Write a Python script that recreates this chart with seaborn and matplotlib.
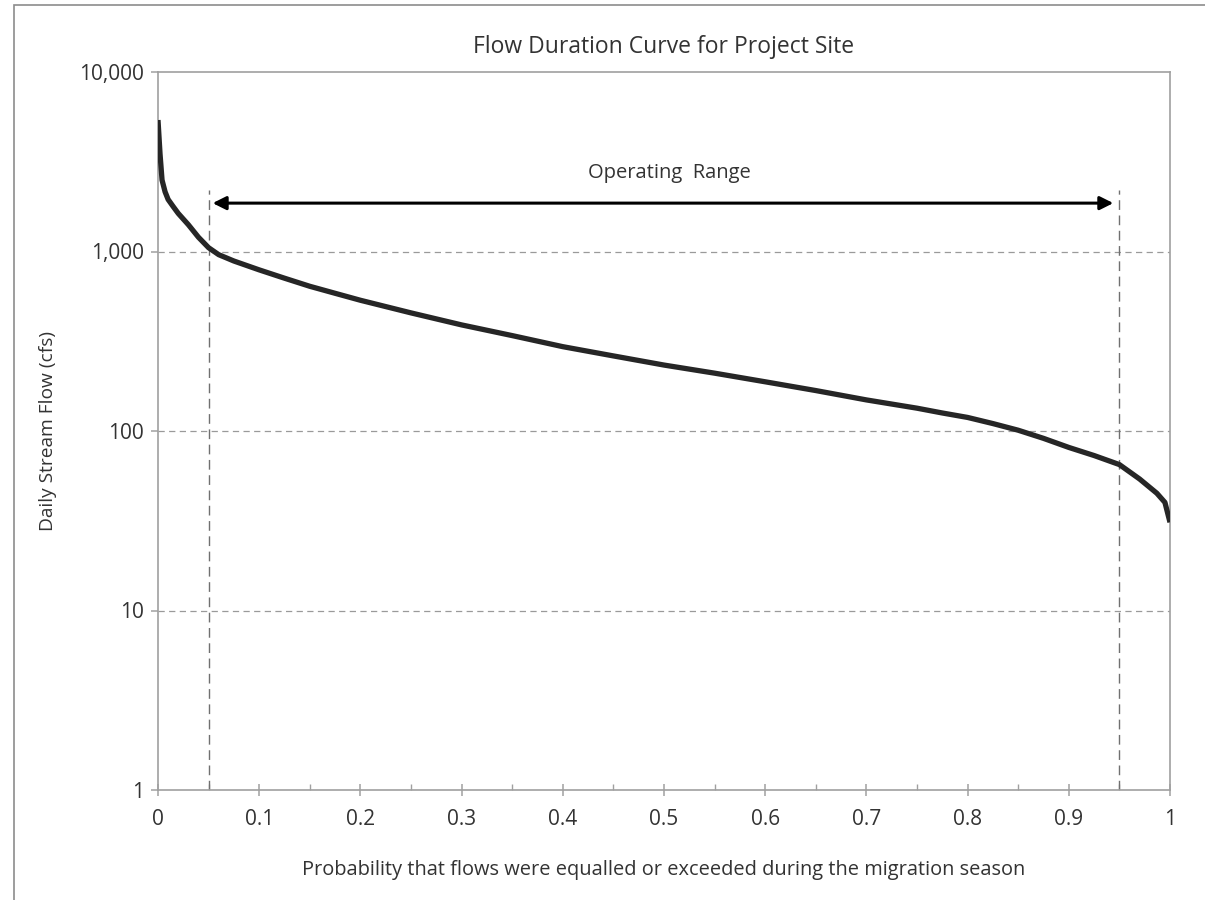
import numpy as np
import pandas as pd
import seaborn as sns
import matplotlib.pyplot as plt
from matplotlib.ticker import FixedLocator, FuncFormatter, NullLocator
from matplotlib.patches import Rectangle

# exceedance probability vs daily flow (cfs)
prob = [0.0, 0.002, 0.004, 0.007, 0.01, 0.015, 0.02, 0.03, 0.04, 0.05, 0.06,
        0.075, 0.1, 0.125, 0.15, 0.175, 0.2, 0.25, 0.3, 0.35, 0.4, 0.45, 0.5,
        0.55, 0.6, 0.65, 0.7, 0.75, 0.775, 0.8, 0.825, 0.85, 0.875, 0.9, 0.925,
        0.95, 0.97, 0.987, 0.995, 1.0]
flow = [5400, 3500, 2500, 2150, 1950, 1780, 1630, 1410, 1200, 1050, 960,
        885, 790, 710, 640, 585, 535, 455, 390, 340, 295, 262, 233,
        210, 188, 168, 149, 134, 126, 119, 110, 101, 91, 81, 73,
        65, 54, 45, 40, 31]
range_bounds = [0.05, 0.95]
y_ticks = [1, 10, 100, 1000, 10000]
x_ticks = [0, 0.1, 0.2, 0.3, 0.4, 0.5, 0.6, 0.7, 0.8, 0.9, 1]

df = pd.DataFrame({"prob": prob, "flow": flow})

sns.set_style("white")
plt.rcParams['font.family'] = ['Open Sans', 'DejaVu Sans']
txt = '#333333'
axc = '#a0a0a0'

fig = plt.figure(figsize=(12.05, 9), dpi=100)
ax = fig.add_axes([158/1205, 1-790/900, (1170-158)/1205, (790-72)/900])

# outer chart border
fig.patches.append(Rectangle((14/1205, -0.05), 1.1, 1-5/900+0.05, transform=fig.transFigure,
                             fill=False, edgecolor='#8c8c8c', linewidth=1.2))

ax.set_yscale('log')
ax.set_ylim(1, 10000)
ax.set_xlim(0, 1)

for v in y_ticks[1:-1]:
    ax.axhline(v, color='#9a9a9a', linestyle=(0, (5, 3.5)), linewidth=0.9, zorder=1)

sns.lineplot(data=df, x="prob", y="flow", ax=ax, color='#262626', linewidth=3.8,
             zorder=4, solid_capstyle='butt')

for b in range_bounds:
    ax.plot([b, b], [1, 2200], color='#707070', linestyle=(0, (7, 4)), linewidth=1.0, zorder=2)

ax.annotate('', xy=(0.054, 1860), xytext=(0.944, 1860),
            arrowprops=dict(arrowstyle='<|-|>', color='black', lw=2.2,
                            mutation_scale=20, shrinkA=0, shrinkB=0))
ax.text(0.505, 2750, 'Operating  Range', ha='center', va='center', fontsize=14.5, color=txt)

ax.yaxis.set_major_locator(FixedLocator(y_ticks))
ax.yaxis.set_minor_locator(NullLocator())
ax.yaxis.set_major_formatter(FuncFormatter(lambda v, p: f"{int(v):,}"))
ax.xaxis.set_major_locator(FixedLocator(x_ticks))
ax.xaxis.set_minor_locator(FixedLocator(np.arange(0.05, 1.0, 0.1)))
ax.xaxis.set_major_formatter(FuncFormatter(lambda v, p: f"{v:g}"))

for s in ax.spines.values():
    s.set_color(axc)
    s.set_linewidth(1.2)

ax.tick_params(axis='y', which='major', direction='out', length=5, width=1.1, color=axc,
               labelsize=15, labelcolor=txt, pad=5, left=True)
ax.tick_params(axis='x', which='major', direction='inout', length=9, width=1.1, color=axc,
               labelsize=15, labelcolor=txt, pad=9, bottom=True)
ax.tick_params(axis='x', which='minor', direction='in', length=4, width=1.0, color=axc, bottom=True)

ax.set_xlabel('Probability that flows were equalled or exceeded during the migration season',
              fontsize=14.4, color=txt, labelpad=22)
ax.set_ylabel('Daily Stream Flow (cfs)', fontsize=13.8, color=txt, labelpad=16)
ax.set_title('Flow Duration Curve for Project Site', fontsize=16.5, color=txt, pad=14)

fig.savefig('out.png', dpi=100)
